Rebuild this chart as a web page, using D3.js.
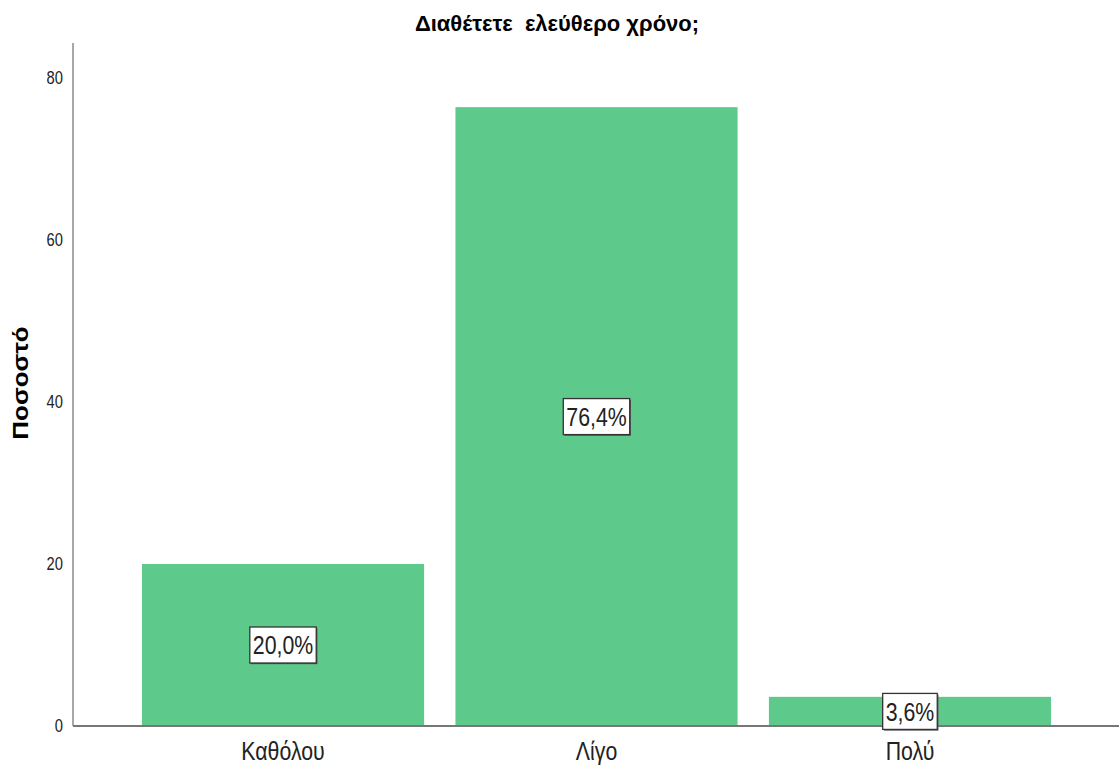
<!DOCTYPE html>
<html>
<head>
<meta charset="utf-8">
<script src="https://cdn.jsdelivr.net/npm/d3@7"></script>
<style>
  html, body { margin: 0; padding: 0; background: #fff; }
  svg { display: block; }
  text { font-family: "Liberation Sans", Arial, sans-serif; }
</style>
</head>
<body>
<svg id="chart" width="1120" height="770"></svg>
<script>
const title = "Διαθέτετε  ελεύθερο χρόνο;";
const yTitle = "Ποσοστό";
const categories = ["Καθόλου", "Λίγο", "Πολύ"];
const values = [20.0, 76.4, 3.6];
const valueLabels = ["20,0%", "76,4%", "3,6%"];
const yTicks = [0, 20, 40, 60, 80];

const NARROW = 0.82;
const svg = d3.select("#chart");
const baseY = 726;

const x = d3.scaleBand()
  .domain(categories)
  .range([73, 1120])
  .paddingInner(0.1)
  .paddingOuter(0.22);

const y = d3.scaleLinear()
  .domain([0, 80])
  .range([baseY, 78]);

// title
svg.append("text")
  .attr("x", 557)
  .attr("y", 31)
  .attr("text-anchor", "middle")
  .attr("font-size", 22)
  .attr("font-weight", "bold")
  .attr("fill", "#000")
  .attr("xml:space", "preserve")
  .style("white-space", "pre")
  .text(title);

// y axis
const yAxis = d3.axisLeft(y).tickValues(yTicks).tickSize(0).tickPadding(10).tickFormat(d3.format("d"));
const gy = svg.append("g").attr("transform", `translate(73,0)`).call(yAxis);
gy.select(".domain").remove();
gy.selectAll("text")
  .attr("font-size", 18).attr("fill", "#222")
  .attr("transform", `scale(${NARROW},1)`)
  .attr("x", -10 / NARROW)
  .style("font-family", '"Liberation Sans", Arial, sans-serif');
svg.append("line")
  .attr("x1", 73).attr("x2", 73)
  .attr("y1", 43).attr("y2", baseY)
  .attr("stroke", "#a8a8a8").attr("stroke-width", 2);

// bars
svg.append("g").selectAll("rect")
  .data(values)
  .join("rect")
  .attr("x", (d, i) => x(categories[i]))
  .attr("width", x.bandwidth())
  .attr("y", d => y(d))
  .attr("height", d => baseY - y(d))
  .attr("fill", "#5dc98a");

// x axis
const xAxis = d3.axisBottom(x).tickSize(0).tickPadding(16);
const gx = svg.append("g").attr("transform", `translate(0,${baseY})`).call(xAxis);
gx.select(".domain").remove();
gx.selectAll("text")
  .attr("font-size", 26).attr("fill", "#222")
  .attr("transform", `scale(${NARROW},1)`)
  .style("font-family", '"Liberation Sans", Arial, sans-serif');
svg.append("line")
  .attr("x1", 73).attr("x2", 1119)
  .attr("y1", baseY).attr("y2", baseY)
  .attr("stroke", "#777").attr("stroke-width", 2);

// value labels
const lbl = svg.append("g").selectAll("g")
  .data(values)
  .join("g")
  .attr("transform", (d, i) => `translate(${x(categories[i]) + x.bandwidth() / 2},${y(d / 2)})`);
lbl.each(function(d, i) {
  const g = d3.select(this);
  const t = g.append("text")
    .attr("text-anchor", "middle")
    .attr("dy", "0.36em")
    .attr("font-size", 26)
    .attr("fill", "#222")
    .attr("transform", `scale(${NARROW},1)`)
    .text(valueLabels[i]);
  const bb = t.node().getBBox();
  const w = bb.width * NARROW + 6, h = 36;
  g.insert("rect", "text")
    .attr("x", -w / 2 + 1.2).attr("y", -h / 2 + 1.2)
    .attr("width", w).attr("height", h)
    .attr("fill", "#555");
  g.insert("rect", "text")
    .attr("x", -w / 2).attr("y", -h / 2)
    .attr("width", w).attr("height", h)
    .attr("fill", "#fff").attr("stroke", "#333").attr("stroke-width", 1.3);
});

// y title
svg.append("text")
  .attr("transform", `translate(28,383) rotate(-90) scale(1.18,1)`)
  .attr("text-anchor", "middle")
  .attr("font-size", 22)
  .attr("font-weight", "bold")
  .attr("fill", "#000")
  .text(yTitle);
</script>
</body>
</html>
